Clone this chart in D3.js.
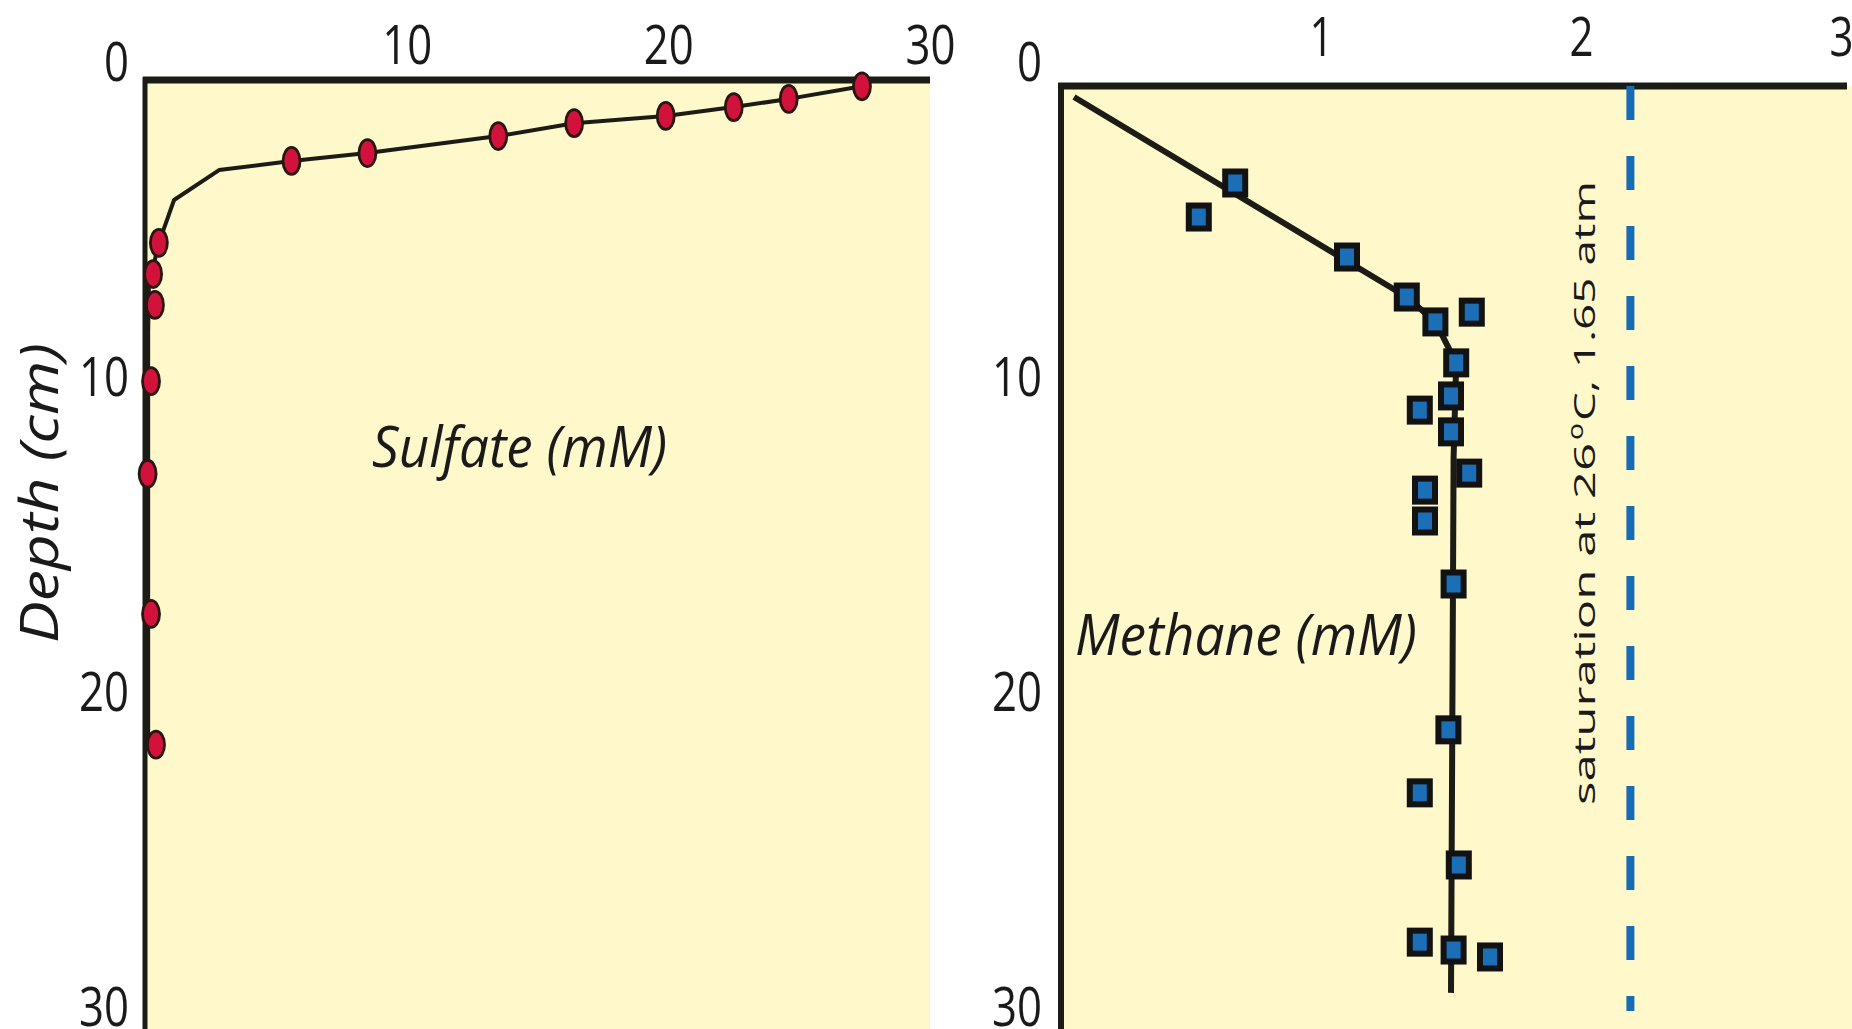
<!DOCTYPE html>
<html>
<head>
<meta charset="utf-8">
<script src="https://cdn.jsdelivr.net/npm/d3@7"></script>
<style>
  html, body { margin: 0; padding: 0; background: #ffffff; }
  svg { display: block; }
</style>
</head>
<body>
<div id="chart"></div>
<script>
// ---------------- data ----------------
// Sulfate profile (left panel)
const sulfateConc  = [27.4, 24.6, 22.5, 19.9, 16.4, 13.5, 8.5, 5.6, 0.53, 0.31, 0.38, 0.23, 0.10, 0.23, 0.42];
const sulfateDepth = [0.2, 0.6, 0.86, 1.14, 1.37, 1.78, 2.32, 2.57, 5.17, 6.16, 7.14, 9.56, 12.5, 16.95, 21.1];
// Sulfate trend line
const sulfateLineConc  = [27.4, 24.6, 22.5, 19.9, 16.4, 13.5, 8.5, 5.6, 2.83, 1.11, 0.53, 0.15, 0.12, 0.12];
const sulfateLineDepth = [0.2, 0.6, 0.86, 1.14, 1.37, 1.78, 2.32, 2.57, 2.86, 3.81, 5.17, 6.5, 8.0, 21.1];

// Methane profile (right panel)
const methaneConc  = [0.67, 0.53, 1.10, 1.33, 1.58, 1.44, 1.52, 1.50, 1.38, 1.50, 1.57, 1.40, 1.40, 1.51, 1.49, 1.38, 1.53, 1.38, 1.51, 1.65];
const methaneDepth = [3.27, 4.35, 5.62, 6.89, 7.37, 7.68, 8.98, 10.03, 10.48, 11.17, 12.48, 13.02, 14.0, 16.0, 20.63, 22.63, 24.92, 27.37, 27.62, 27.84];
// Methane trend line
const methaneLineConc  = [0.05, 1.33, 1.44, 1.52, 1.51, 1.50];
const methaneLineDepth = [0.54, 6.89, 7.68, 8.98, 12.0, 28.98];
// Methane saturation (26 °C, 1.65 atm)
const methaneSaturation = 2.19;

// Axis ticks
const depthTicks   = [0, 10, 20, 30];
const sulfateTicks = [10, 20, 30];
const methaneTicks = [1, 2, 3];

// Labels
const depthLabel   = "Depth (cm)";
const sulfateLabel = "Sulfate (mM)";
const methaneLabel = "Methane (mM)";
const satLabelPre  = "saturation at 26";
const satLabelSup  = "o";
const satLabelPost = "C, 1.65 atm";

// ---------------- drawing ----------------
const W = 1852, H = 1029;
const bg = "#fef8cb";
const ink = "#1c1c16";
const fontTick = "'Open Sans', 'Noto Sans', sans-serif";

const svg = d3.select("#chart").append("svg")
  .attr("width", W).attr("height", H);

svg.append("rect").attr("width", W).attr("height", H).attr("fill", "#ffffff");

const y  = d3.scaleLinear().domain([0, 30]).range([80, 1025]);
const xS = d3.scaleLinear().domain([0, 30]).range([145, 930]);
const xM = d3.scaleLinear().domain([0, 3]).range([1061, 1841]);

const rightTop = y(0) + 6;

// panel backgrounds
svg.append("rect").attr("x", xS(0)).attr("y", y(0))
  .attr("width", xS(30) - xS(0)).attr("height", H - y(0)).attr("fill", bg);
svg.append("rect").attr("x", xM(0)).attr("y", rightTop)
  .attr("width", W - xM(0)).attr("height", H - rightTop).attr("fill", bg);

// ---- left panel frame
svg.append("line").attr("x1", xS(0)).attr("x2", xS(0)).attr("y1", y(0) - 3).attr("y2", H)
  .attr("stroke", ink).attr("stroke-width", 5);
svg.append("line").attr("x1", xS(0) - 2).attr("x2", xS(30)).attr("y1", y(0)).attr("y2", y(0))
  .attr("stroke", ink).attr("stroke-width", 7);

// ---- right panel frame
svg.append("line").attr("x1", xM(0)).attr("x2", xM(0)).attr("y1", rightTop - 3).attr("y2", H)
  .attr("stroke", ink).attr("stroke-width", 6);
svg.append("line").attr("x1", xM(0) - 3).attr("x2", W - 5).attr("y1", rightTop).attr("y2", rightTop)
  .attr("stroke", ink).attr("stroke-width", 7);

function styleTicks(g, perChar) {
  g.select(".domain").remove();
  g.selectAll("text")
    .attr("fill", "#1a1a1a")
    .attr("font-family", fontTick)
    .attr("font-size", 55)
    .attr("textLength", d => String(d).length * perChar)
    .attr("lengthAdjust", "spacingAndGlyphs");
}

const intFmt = d3.format("d");

// depth axes
const yAxisL = svg.append("g").attr("transform", `translate(${xS(0)},0)`)
  .call(d3.axisLeft(y).tickValues(depthTicks).tickFormat(intFmt).tickSize(0).tickPadding(16));
styleTicks(yAxisL, 25);
yAxisL.selectAll("text").attr("dy", "0em");

const yAxisR = svg.append("g").attr("transform", `translate(${xM(0)},0)`)
  .call(d3.axisLeft(y).tickValues(depthTicks).tickFormat(intFmt).tickSize(0).tickPadding(19));
styleTicks(yAxisR, 25);
yAxisR.selectAll("text").attr("dy", "0em");

// concentration axes (top)
const xAxisS = svg.append("g").attr("transform", `translate(0,${y(0)})`)
  .call(d3.axisTop(xS).tickValues(sulfateTicks).tickFormat(intFmt).tickSize(0).tickPadding(16));
styleTicks(xAxisS, 25);

const xAxisM = svg.append("g").attr("transform", `translate(0,${y(0)})`)
  .call(d3.axisTop(xM).tickValues(methaneTicks).tickFormat(intFmt).tickSize(0).tickPadding(24));
styleTicks(xAxisM, 24);

// ---- Sulfate line + points
const sulfateLine = d3.line().x(d => xS(d[0])).y(d => y(d[1]));
svg.append("path")
  .datum(d3.zip(sulfateLineConc, sulfateLineDepth))
  .attr("d", sulfateLine)
  .attr("fill", "none").attr("stroke", ink).attr("stroke-width", 4)
  .attr("stroke-linejoin", "round");

svg.append("g").selectAll("ellipse")
  .data(d3.zip(sulfateConc, sulfateDepth))
  .join("ellipse")
  .attr("cx", d => xS(d[0])).attr("cy", d => y(d[1]))
  .attr("rx", 8.5).attr("ry", 13.5)
  .attr("fill", "#d3123c").attr("stroke", "#2b1510").attr("stroke-width", 2.8);

// ---- Methane saturation line
svg.append("line")
  .attr("x1", xM(methaneSaturation)).attr("x2", xM(methaneSaturation))
  .attr("y1", rightTop).attr("y2", 1011)
  .attr("stroke", "#176db5").attr("stroke-width", 8)
  .attr("stroke-dasharray", "34,36");

// ---- Methane line + points
const methaneLine = d3.line().x(d => xM(d[0])).y(d => y(d[1]));
svg.append("path")
  .datum(d3.zip(methaneLineConc, methaneLineDepth))
  .attr("d", methaneLine)
  .attr("fill", "none").attr("stroke", ink).attr("stroke-width", 6)
  .attr("stroke-linejoin", "round");

const sqW = 20, sqH = 23;
svg.append("g").selectAll("rect")
  .data(d3.zip(methaneConc, methaneDepth))
  .join("rect")
  .attr("x", d => xM(d[0]) - sqW / 2).attr("y", d => y(d[1]) - sqH / 2)
  .attr("width", sqW).attr("height", sqH)
  .attr("fill", "#1c6fb6").attr("stroke", "#121212").attr("stroke-width", 6);

// ---- text labels
svg.append("text")
  .attr("transform", "translate(58,493) rotate(-90)")
  .attr("text-anchor", "middle")
  .attr("font-family", fontTick).attr("font-style", "italic")
  .attr("font-size", 53).attr("fill", "#1a1a1a")
  .attr("textLength", 300).attr("lengthAdjust", "spacingAndGlyphs")
  .text(depthLabel);

svg.append("text")
  .attr("x", 372).attr("y", 467)
  .attr("font-family", fontTick).attr("font-style", "italic")
  .attr("font-size", 57).attr("fill", "#1a1a1a")
  .attr("textLength", 295).attr("lengthAdjust", "spacingAndGlyphs")
  .text(sulfateLabel);

svg.append("text")
  .attr("x", 1075).attr("y", 655)
  .attr("font-family", fontTick).attr("font-style", "italic")
  .attr("font-size", 57).attr("fill", "#1a1a1a")
  .attr("textLength", 342).attr("lengthAdjust", "spacingAndGlyphs")
  .text(methaneLabel);

const sat = svg.append("text")
  .attr("transform", "translate(1595,805) rotate(-90)")
  .attr("text-anchor", "start")
  .attr("font-family", fontTick)
  .attr("font-size", 29).attr("fill", "#1a1a1a");
sat.append("tspan").attr("textLength", 362).attr("lengthAdjust", "spacingAndGlyphs").text(satLabelPre);
sat.append("tspan").attr("dx", 3).attr("dy", -12).attr("font-size", 22)
  .attr("textLength", 17).attr("lengthAdjust", "spacingAndGlyphs").text(satLabelSup);
sat.append("tspan").attr("dx", 2).attr("dy", 12)
  .attr("textLength", 240).attr("lengthAdjust", "spacingAndGlyphs").text(satLabelPost);
</script>
</body>
</html>
